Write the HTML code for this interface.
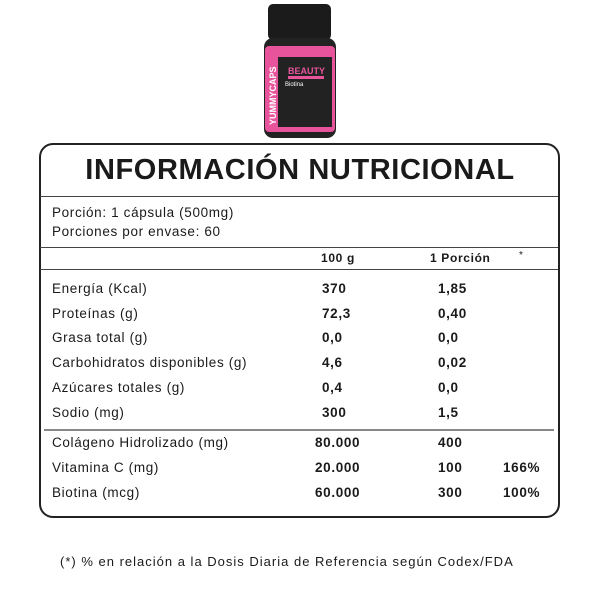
<!DOCTYPE html>
<html><head><meta charset="utf-8"><style>
body{margin:0;width:600px;height:600px;background:#fff;position:relative;font-family:"Liberation Sans",sans-serif;color:#1a1a1a;overflow:hidden}
.a{position:absolute;white-space:nowrap;font-size:13.5px;line-height:16px;letter-spacing:0.65px}
.hr{position:absolute;left:40px;width:518px;height:1px;background:#444}
</style></head><body>
<svg style="position:absolute;left:0;top:0" width="600" height="145">
<rect x="268" y="4" width="63" height="36" rx="5" fill="#1b1b1b"/>
<rect x="264" y="38" width="72" height="100" rx="9" fill="#222"/>
<rect x="265" y="46" width="70" height="86" rx="4" fill="#e8549c"/>
<rect x="278" y="57" width="54" height="70" fill="#222"/>
<text x="288" y="74" font-family="Liberation Sans" font-size="9" font-weight="bold" fill="#e8549c">BEAUTY</text>
<rect x="288" y="76" width="36" height="3" fill="#e8549c"/>
<text x="285" y="86" font-family="Liberation Sans" font-size="6" fill="#fff">Biotina</text>
<text x="276" y="125" font-family="Liberation Sans" font-size="9" font-weight="bold" fill="#fff" transform="rotate(-90 276 125)">YUMMYCAPS</text>
</svg>
<div style="position:absolute;left:39px;top:143px;width:517px;height:371px;border:2px solid #222;border-radius:14px"></div>
<div class="a" style="left:0;width:600px;text-align:center;top:152px;font-size:29px;line-height:36px;font-weight:bold;letter-spacing:0.6px">INFORMACIÓN NUTRICIONAL</div>
<div class="hr" style="top:196px"></div>
<div class="a" style="left:52px;top:205px">Porción: 1 cápsula (500mg)</div>
<div class="a" style="left:52px;top:224px">Porciones por envase: 60</div>
<div class="hr" style="top:247px"></div>
<div class="a" style="left:321px;top:250px;font-size:12px;font-weight:bold">100 g</div>
<div class="a" style="left:430px;top:250px;font-size:12px;font-weight:bold">1 Porción</div>
<div class="a" style="left:519px;top:248px;font-size:10px">*</div>
<div class="hr" style="top:269px"></div>
<div class="a" style="left:52px;top:281px">Energía (Kcal)</div><div class="a" style="left:322px;top:281px;font-weight:bold">370</div><div class="a" style="left:438px;top:281px;font-weight:bold">1,85</div>
<div class="a" style="left:52px;top:306px">Proteínas (g)</div><div class="a" style="left:322px;top:306px;font-weight:bold">72,3</div><div class="a" style="left:438px;top:306px;font-weight:bold">0,40</div>
<div class="a" style="left:52px;top:330px">Grasa total (g)</div><div class="a" style="left:322px;top:330px;font-weight:bold">0,0</div><div class="a" style="left:438px;top:330px;font-weight:bold">0,0</div>
<div class="a" style="left:52px;top:355px">Carbohidratos disponibles (g)</div><div class="a" style="left:322px;top:355px;font-weight:bold">4,6</div><div class="a" style="left:438px;top:355px;font-weight:bold">0,02</div>
<div class="a" style="left:52px;top:380px">Azúcares totales (g)</div><div class="a" style="left:322px;top:380px;font-weight:bold">0,4</div><div class="a" style="left:438px;top:380px;font-weight:bold">0,0</div>
<div class="a" style="left:52px;top:405px">Sodio (mg)</div><div class="a" style="left:322px;top:405px;font-weight:bold">300</div><div class="a" style="left:438px;top:405px;font-weight:bold">1,5</div>
<div class="hr" style="top:429px;height:2px;background:#888;left:44px;width:510px"></div>
<div class="a" style="left:52px;top:435px">Colágeno Hidrolizado (mg)</div><div class="a" style="left:315px;top:435px;font-weight:bold">80.000</div><div class="a" style="left:438px;top:435px;font-weight:bold">400</div>
<div class="a" style="left:52px;top:460px">Vitamina C (mg)</div><div class="a" style="left:315px;top:460px;font-weight:bold">20.000</div><div class="a" style="left:438px;top:460px;font-weight:bold">100</div><div class="a" style="left:503px;top:460px;font-weight:bold">166%</div>
<div class="a" style="left:52px;top:485px">Biotina (mcg)</div><div class="a" style="left:315px;top:485px;font-weight:bold">60.000</div><div class="a" style="left:438px;top:485px;font-weight:bold">300</div><div class="a" style="left:503px;top:485px;font-weight:bold">100%</div>
<div class="a" style="left:60px;top:554px;font-size:13px;letter-spacing:1px">(*) % en relación a la Dosis Diaria de Referencia según Codex/FDA</div>
</body></html>
